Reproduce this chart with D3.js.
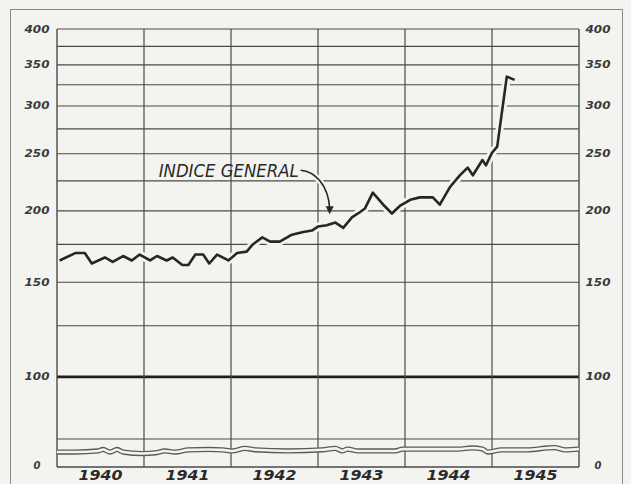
<!DOCTYPE html>
<html>
<head>
<meta charset="utf-8">
<script src="https://cdn.jsdelivr.net/npm/d3@7"></script>
<style>
  html, body { margin: 0; padding: 0; background: #f3f3f0; }
  svg { display: block; }
</style>
</head>
<body>
<div id="chart"></div>
<script>
// years on the x axis
const anios = [1940, 1941, 1942, 1943, 1944, 1945];

// INDICE GENERAL (decimal year, value)
const fechasIndice = [
  1940.03, 1940.21, 1940.32, 1940.40, 1940.55, 1940.64, 1940.76, 1940.86, 1940.95,
  1941.07, 1941.15, 1941.26, 1941.33, 1941.44, 1941.51, 1941.59, 1941.68, 1941.75, 1941.84, 1941.97,
  1942.07, 1942.18, 1942.25, 1942.36, 1942.45, 1942.56, 1942.70, 1942.83, 1942.93,
  1943.00, 1943.10, 1943.20, 1943.29, 1943.39, 1943.48, 1943.54, 1943.63, 1943.75, 1943.85, 1943.94,
  1944.06, 1944.17, 1944.32, 1944.40, 1944.52, 1944.63, 1944.72, 1944.78, 1944.89, 1944.93,
  1945.00, 1945.06, 1945.17, 1945.26
];
const valoresIndice = [
  164, 169, 169, 162, 166, 163, 167, 164, 168,
  164, 167, 164, 166, 161, 161, 168, 168, 162, 168, 164,
  169, 170, 175, 180, 177, 177, 182, 184, 185,
  188, 189, 191, 187, 195, 199, 202, 215, 205, 198, 204,
  209, 211, 211, 205, 220, 230, 237, 230, 244, 239,
  251, 257, 335, 331
];

// lower double line, in the broken part of the axis (0 - 75)
const fechasInferior = [
  1940.00, 1940.21, 1940.47, 1940.53, 1940.61, 1940.69, 1940.76, 1940.98,
  1941.13, 1941.24, 1941.36, 1941.51, 1941.74, 1941.90,
  1942.01, 1942.16, 1942.28, 1942.66,
  1943.05, 1943.20, 1943.28, 1943.34, 1943.46, 1943.89, 1943.97,
  1944.43, 1944.61, 1944.77, 1944.89, 1944.95,
  1945.11, 1945.41, 1945.64, 1945.72, 1945.84, 1946.00
];
const valoresInferior = [
  40, 40, 43, 47, 40, 47, 40, 36,
  38, 43, 40, 46, 47, 46,
  43, 50, 46, 43,
  46, 50, 43, 48, 43, 43, 48,
  48, 48, 51, 48, 40,
  46, 46, 51, 52, 46, 48
];

// horizontal rules and their labels
const lineasHorizontales = [400, 375, 350, 325, 300, 275, 250, 225, 200, 175, 150, 125, 100, 75];
const etiquetasEje = [400, 350, 300, 250, 200, 150, 100];
const etiquetaSerie = 'INDICE GENERAL';

const width = 631,
    height = 484,
    paper = '#f3f3f0',
    ink = '#262626',
    grid = '#4a4a4a',
    handFont = '"DejaVu Sans", sans-serif';

const x = d3.scaleLinear()
    .domain([1940, 1946])
    .range([57, 579]);

// the printed scale is compressed towards the top
const y = d3.scaleSymlog()
    .constant(30)
    .domain([75, 400])
    .range([439, 29]);

// broken part at the bottom, from 0 up to the first rule
const yBajo = d3.scaleLinear()
    .domain([0, 75])
    .range([467, 439]);

const svg = d3.select('#chart')
    .append('svg')
    .attr('width', width)
    .attr('height', height);

svg.append('rect')
    .attr('width', width)
    .attr('height', height)
    .attr('fill', paper);

// outer frame of the plate
svg.append('rect')
    .attr('x', 10.5)
    .attr('y', 9.5)
    .attr('width', 612)
    .attr('height', 490)
    .attr('fill', 'none')
    .attr('stroke', '#8a8a8a')
    .attr('stroke-width', 1);

// horizontal rules
svg.append('g')
    .selectAll('line')
    .data(lineasHorizontales)
    .join('line')
    .attr('x1', x(1940))
    .attr('x2', x(1946))
    .attr('y1', d => y(d))
    .attr('y2', d => y(d))
    .attr('stroke', d => d === 100 ? '#1e1e1e' : grid)
    .attr('stroke-width', d => d === 100 ? 2.6 : 1.2);

// bottom rule (0)
svg.append('line')
    .attr('x1', x(1940))
    .attr('x2', x(1946))
    .attr('y1', yBajo(0))
    .attr('y2', yBajo(0))
    .attr('stroke', grid)
    .attr('stroke-width', 1.3);

// vertical rules at every year
svg.append('g')
    .selectAll('line')
    .data(anios.concat([1946]))
    .join('line')
    .attr('x1', d => x(d))
    .attr('x2', d => x(d))
    .attr('y1', y(400))
    .attr('y2', yBajo(0))
    .attr('stroke', grid)
    .attr('stroke-width', d => (d === 1940 || d === 1946) ? 1.4 : 1.2);

// lower double line
const puntosInferior = fechasInferior.map((f, i) => [f, valoresInferior[i]]);
const lineaInferior = d3.line()
    .x(d => x(d[0]))
    .y(d => yBajo(d[1]))
    .curve(d3.curveMonotoneX);

svg.append('path')
    .attr('d', lineaInferior(puntosInferior))
    .attr('fill', 'none')
    .attr('stroke', '#5a5a5a')
    .attr('stroke-width', 5.2);

svg.append('path')
    .attr('d', lineaInferior(puntosInferior))
    .attr('fill', 'none')
    .attr('stroke', paper)
    .attr('stroke-width', 2.6);

// main index line, with a paper halo that breaks the rules like the drafting does
const puntosIndice = fechasIndice.map((f, i) => [f, valoresIndice[i]]);
const lineaIndice = d3.line()
    .x(d => x(d[0]))
    .y(d => y(d[1]));

svg.append('path')
    .attr('d', lineaIndice(puntosIndice))
    .attr('fill', 'none')
    .attr('stroke', paper)
    .attr('stroke-width', 8)
    .attr('stroke-linejoin', 'round');

svg.append('path')
    .attr('d', lineaIndice(puntosIndice))
    .attr('fill', 'none')
    .attr('stroke', ink)
    .attr('stroke-width', 2.6)
    .attr('stroke-linejoin', 'round');

// left and right labels
const etiquetas = svg.append('g')
    .attr('font-family', handFont)
    .attr('font-style', 'italic')
    .attr('font-weight', 'bold')
    .attr('font-size', 10)
    .attr('fill', '#3a3a3a')
    .attr('text-anchor', 'middle');

[37, 598].forEach(cx => {
    etiquetas.append('g')
        .selectAll('text')
        .data(etiquetasEje)
        .join('text')
        .attr('x', cx)
        .attr('y', d => y(d))
        .attr('dy', '0.35em')
        .attr('textLength', 25)
        .attr('lengthAdjust', 'spacingAndGlyphs')
        .text(d => d);

    etiquetas.append('text')
        .attr('x', cx)
        .attr('y', yBajo(0))
        .attr('dy', '0.2em')
        .text('0');
});

// year labels
svg.append('g')
    .attr('font-family', handFont)
    .attr('font-style', 'italic')
    .attr('font-weight', 'bold')
    .attr('font-size', 14)
    .attr('fill', '#2a2a2a')
    .attr('text-anchor', 'middle')
    .selectAll('text')
    .data(anios)
    .join('text')
    .attr('x', d => x(d + 0.5))
    .attr('y', yBajo(0) + 13)
    .attr('textLength', 44)
    .attr('lengthAdjust', 'spacingAndGlyphs')
    .text(d => d);

// annotation pointing at the line
const objetivo = [fechasIndice[30], valoresIndice[30]],
    tx = x(objetivo[0]),
    ty = y(objetivo[1]);

const flecha = `M${tx - 26},${ty - 55} C${tx - 12},${ty - 54} ${tx + 2},${ty - 40} ${tx + 3},${ty - 16}`;

svg.append('path')
    .attr('d', flecha)
    .attr('fill', 'none')
    .attr('stroke', paper)
    .attr('stroke-width', 6);

svg.append('path')
    .attr('d', flecha)
    .attr('fill', 'none')
    .attr('stroke', ink)
    .attr('stroke-width', 1.6);

svg.append('path')
    .attr('d', `M${tx - 1},${ty - 19} L${tx + 7},${ty - 19} L${tx + 3},${ty - 11} Z`)
    .attr('fill', ink);

svg.append('text')
    .attr('x', tx - 168)
    .attr('y', ty - 48)
    .attr('font-family', handFont)
    .attr('font-style', 'italic')
    .attr('font-size', 18)
    .attr('fill', '#2a2a2a')
    .attr('textLength', 140)
    .attr('lengthAdjust', 'spacingAndGlyphs')
    .text(etiquetaSerie);
</script>
</body>
</html>
